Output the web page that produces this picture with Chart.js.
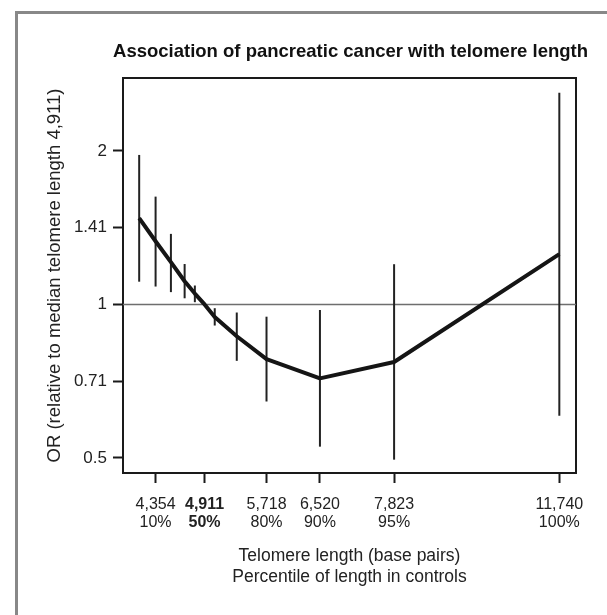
<!DOCTYPE html>
<html><head><meta charset="utf-8">
<script src="https://cdn.jsdelivr.net/npm/chart.js@4"></script>
<style>
html,body{margin:0;padding:0;background:#fff;}
#wrap{position:relative;width:607px;height:615px;overflow:hidden;background:#fff;}
#frame{position:absolute;left:15px;top:11px;width:700px;height:700px;border-left:3px solid #888888;border-top:3px solid #888888;}
canvas{position:absolute;left:0;top:0;}
</style></head><body>
<div id="wrap"><div id="frame"></div><canvas id="c" width="607" height="615"></canvas></div>
<script>
// Telomere length (bp) at each estimate point
const lengthBp   = [4182, 4354, 4521, 4676, 4795, 4911, 5035, 5315, 5718, 6520, 7823, 11740];
// Odds ratio relative to median (4,911 bp)
const oddsRatio  = [1.476, 1.33, 1.21, 1.11, 1.05, 1.0, 0.945, 0.866, 0.781, 0.716, 0.771, 1.255];
const ciLower    = [1.108, 1.084, 1.057, 1.028, 1.010, null, 0.909, 0.775, 0.645, 0.526, 0.496, 0.605];
const ciUpper    = [1.964, 1.627, 1.375, 1.200, 1.089, null, 0.983, 0.964, 0.946, 0.975, 1.199, 2.600];
const xTickValues      = [4354, 4911, 5718, 6520, 7823, 11740];
const xTickLengths     = ["4,354", "4,911", "5,718", "6,520", "7,823", "11,740"];
const xTickPercentiles = ["10%", "50%", "80%", "90%", "95%", "100%"];
const yTickValues = [0.5, 0.7071, 1, 1.4142, 2];
const yTickLabels = ["0.5", "0.71", "1", "1.41", "2"];
const xMin = 4019, xMax = 12231, yMin = 0.467, yMax = 2.78;
const refOR = 1;

const FAM = '"Liberation Sans", Arial, Helvetica, sans-serif';
Chart.defaults.font.family = FAM;
Chart.defaults.color = '#222';

const datasets = [];
datasets.push({
  data: lengthBp.map((x, i) => ({x: x, y: oddsRatio[i]})),
  borderColor: '#151515', borderWidth: 4, pointRadius: 0, tension: 0,
  borderJoinStyle: 'round', borderCapStyle: 'butt'
});
lengthBp.forEach((x, i) => {
  if (ciLower[i] == null) return;
  datasets.push({
    data: [{x: x, y: ciLower[i]}, {x: x, y: ciUpper[i]}],
    borderColor: '#222', borderWidth: 2, pointRadius: 0
  });
});
datasets.push({
  data: [{x: xMin, y: refOR}, {x: xMax, y: refOR}],
  borderColor: '#6e6e6e', borderWidth: 1.5, pointRadius: 0
});

const axisGrid = {display: true, drawOnChartArea: false, drawTicks: true, tickLength: 10, tickWidth: 2, tickColor: '#1a1a1a', color: '#1a1a1a'};
const axisBorder = {display: true, color: '#1a1a1a', width: 2};

new Chart(document.getElementById('c'), {
  type: 'line',
  data: {datasets: datasets},
  options: {
    responsive: false,
    animation: false,
    layout: {padding: {left: 40, right: 19, top: 0, bottom: 0}},
    plugins: {
      legend: {display: false}, tooltip: {enabled: false},
      title: {display: true, align: 'end', text: 'Association of pancreatic cancer with telomere length', color: '#111',
        font: {family: FAM, size: 18.5, weight: 'bold', lineHeight: 1.2}, padding: {top: 41, bottom: 14.8}}
    },
    scales: {
      x: {
        type: 'logarithmic', position: 'bottom', min: xMin, max: xMax,
        afterBuildTicks: s => { s.ticks = xTickValues.map(v => ({value: v})); },
        afterFit: s => { s.height = 142; },
        grid: axisGrid, border: axisBorder,
        ticks: {
          autoSkip: false, maxRotation: 0, minRotation: 0, padding: 12, color: '#222',
          font: c => ({family: FAM, size: 16, lineHeight: 1.15, weight: (c.tick && c.tick.value === 4911) ? 'bold' : 'normal'}),
          callback: v => { const i = xTickValues.indexOf(v); return i < 0 ? '' : [xTickLengths[i], xTickPercentiles[i]]; }
        },
        title: {display: true, text: ['Telomere length (base pairs)', 'Percentile of length in controls'], color: '#222',
          font: {family: FAM, size: 17.5, lineHeight: 1.2}, padding: {top: 0, bottom: 27.5}}
      },
      y: {
        type: 'logarithmic', position: 'left', min: yMin, max: yMax,
        afterBuildTicks: s => { s.ticks = yTickValues.map(v => ({value: v})); },
        afterFit: s => { s.width = 83; },
        grid: axisGrid, border: axisBorder,
        ticks: {padding: 6, color: '#222', font: {family: FAM, size: 17},
          callback: v => { const i = yTickValues.indexOf(v); return i < 0 ? '' : yTickLabels[i]; }},
        title: {display: true, text: 'OR (relative to median telomere length 4,911)', color: '#222',
          font: {family: FAM, size: 18.5, lineHeight: 1.2}, padding: {top: 4, bottom: 4}}
      },
      x2: {
        type: 'linear', position: 'top', display: true,
        grid: {display: false, drawTicks: false}, ticks: {display: false}, border: axisBorder,
        afterFit: s => { s.height = 0; }
      },
      y2: {
        type: 'linear', position: 'right', display: true,
        grid: {display: false, drawTicks: false}, ticks: {display: false}, border: axisBorder,
        afterFit: s => { s.width = 12; }
      }
    }
  }
});
</script>
</body></html>
